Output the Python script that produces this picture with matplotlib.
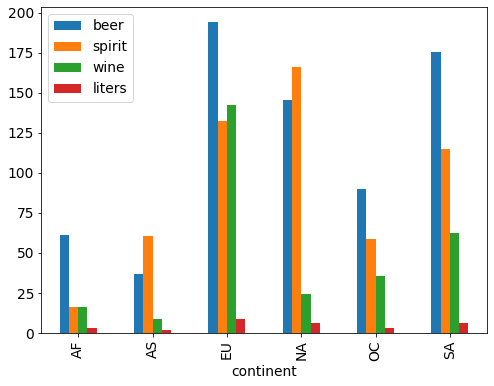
import pandas as pd
import matplotlib
matplotlib.use("Agg")
import matplotlib.pyplot as plt

continents = ["AF", "AS", "EU", "NA", "OC", "SA"]
beer = [61.47, 37.05, 193.78, 145.43, 89.69, 175.08]
spirit = [16.34, 60.84, 132.56, 165.74, 58.44, 114.75]
wine = [16.26, 9.07, 142.22, 24.52, 35.63, 62.42]
liters = [3.01, 2.17, 8.62, 6.0, 3.38, 6.31]

df = pd.DataFrame({"beer": beer, "spirit": spirit, "wine": wine, "liters": liters},
                  index=pd.Index(continents, name="continent"))

# original was drawn at 72 dpi, so shrink the non-font sizes a bit
s = 0.72
plt.rcParams.update({
    "font.size": 10,
    "axes.linewidth": 0.8 * s,
    "xtick.major.size": 3.5 * s,
    "ytick.major.size": 3.5 * s,
    "xtick.major.width": 0.8 * s,
    "ytick.major.width": 0.8 * s,
    "xtick.major.pad": 3.5 * s,
    "ytick.major.pad": 3.5 * s,
    "axes.labelpad": 4.0 * s,
    "patch.linewidth": 1.0 * s,
})

fig = plt.figure(figsize=(4.94, 3.86), dpi=100)
ax = fig.add_axes([0.083, 0.137, 0.903, 0.845])
df.plot(kind="bar", ax=ax)
ax.legend(loc="upper left")
fig.savefig("out.png", dpi=100)
